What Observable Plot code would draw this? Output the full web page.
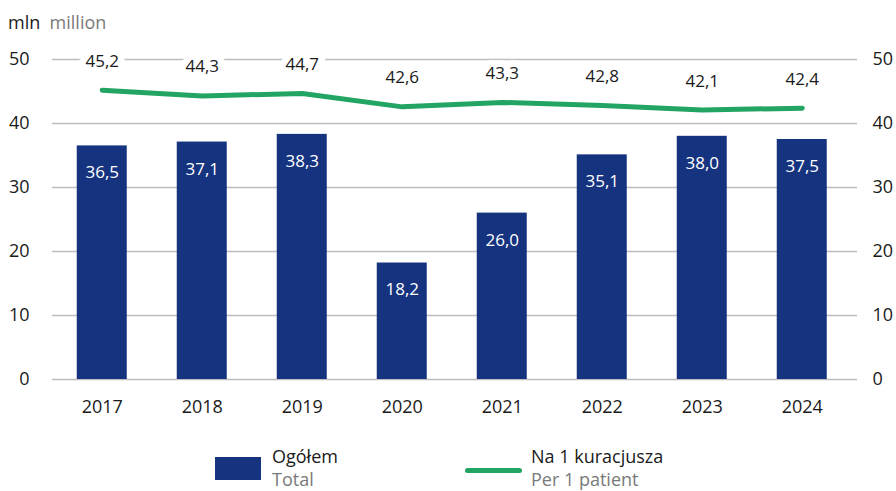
<!DOCTYPE html>
<html><head><meta charset="utf-8">
<script src="https://cdn.jsdelivr.net/npm/d3@7"></script>
<script src="https://cdn.jsdelivr.net/npm/@observablehq/plot@0.6"></script>
<style>
body{margin:0;background:#fff;font-family:"Open Sans",sans-serif;}
#wrap{position:relative;width:896px;height:491px;overflow:hidden;background:#fff;}
#head{height:40px;line-height:44px;font-size:18px;padding-left:8px;white-space:nowrap;}
#legend{position:relative;height:61px;font-size:18px;}
.lt{position:absolute;line-height:23px;white-space:nowrap;}
.sub{color:#7a7a7a;}
</style></head><body>
<div id="wrap">
  <div id="head"><span style="color:#1a1a1a">mln</span>&nbsp;&nbsp;<span class="sub">million</span></div>
  <div id="chart"></div>
  <div id="legend">
    <div style="position:absolute;left:215px;top:27px;width:46px;height:23px;background:#15337f"></div>
    <div class="lt" style="left:272px;top:15px;color:#1a1a1a">Ogółem<br><span class="sub">Total</span></div>
    <div style="position:absolute;left:465px;top:38px;width:57px;height:5px;background:#22a463;border-radius:3px"></div>
    <div class="lt" style="left:531px;top:15px;color:#1a1a1a">Na 1 kuracjusza<br><span class="sub">Per 1 patient</span></div>
  </div>
</div>
<script>
const years = ["2017","2018","2019","2020","2021","2022","2023","2024"];
const total = [36.5,37.1,38.3,18.2,26.0,35.1,38.0,37.5];
const perPatient = [45.2,44.3,44.7,42.6,43.3,42.8,42.1,42.4];
const yTicks = [0,10,20,30,40,50];
const data = years.map((y,i)=>({year:y,total:total[i],per:perPatient[i]}));
const fmt = d => d.toFixed(1).replace(".", ",");

const chart = Plot.plot({
  width:896, height:390, marginTop:19, marginBottom:51, marginLeft:52, marginRight:39,
  style:{fontFamily:"Open Sans", fontSize:"17px", color:"#1a1a1a", background:"#fff", overflow:"visible"},
  x:{type:"band", domain:years, paddingInner:0.5, paddingOuter:0.275, align:0.45, round:false, label:null},
  y:{domain:[0,50], label:null},
  marks:[
    Plot.gridY(yTicks,{stroke:"#bdbdbd", strokeOpacity:1, strokeWidth:1.5}),
    Plot.barY(data,{x:"year", y:"total", fill:"#15337f"}),
    Plot.text(data,{x:"year", y:"total", text:d=>fmt(d.total), dy:27, fill:"white", fontSize:17}),
    Plot.line(data,{x:"year", y:"per", stroke:"#22a463", strokeWidth:5, strokeLinecap:"round", strokeLinejoin:"round"}),
    Plot.text(data,{x:"year", y:"per", text:d=>fmt(d.per), dy:-29, fill:"#1a1a1a", stroke:"white", strokeWidth:14, fontSize:17}),
    Plot.axisX({tickSize:0, tickPadding:21, fontSize:18, fill:"#1a1a1a"}),
    Plot.axisY(yTicks,{anchor:"left", tickSize:0, tickPadding:23, fontSize:18, fill:"#1a1a1a"}),
    Plot.axisY(yTicks,{anchor:"right", tickSize:0, tickPadding:15, fontSize:18, fill:"#1a1a1a"})
  ]
});
document.getElementById("chart").appendChild(chart);
</script>
</body></html>
